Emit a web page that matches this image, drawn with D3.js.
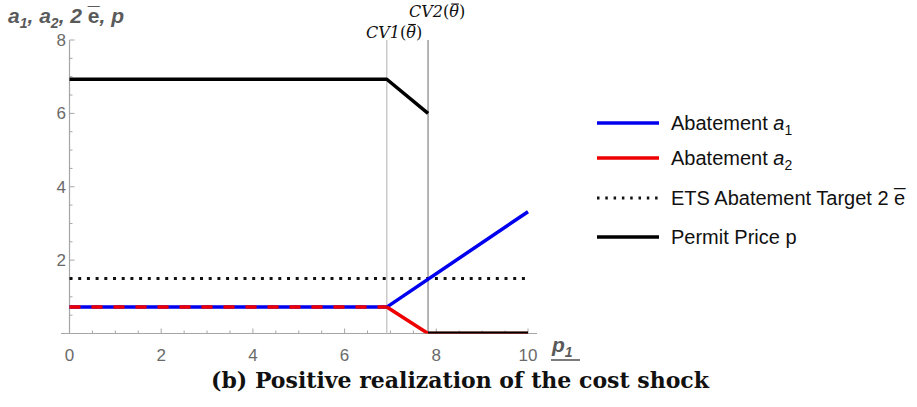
<!DOCTYPE html>
<html>
<head>
<meta charset="utf-8">
<script src="https://cdn.jsdelivr.net/npm/d3@7"></script>
<style>
  html, body { margin: 0; padding: 0; background: #fff; }
  svg { display: block; }
</style>
</head>
<body>
<svg id="chart" width="917" height="407"></svg>
<script>
// Regime thresholds on the p1 axis
const cv1 = 6.92;
const cv2 = 7.82;

// Abatement of country 1 and 2, target and permit price, as (p1, value) pairs
const abatementA1 = [[0, 0.72], [cv1, 0.72], [10, 3.32]];
const abatementA2 = [[0, 0.72], [cv1, 0.72], [cv2, 0], [10, 0]];
const abatementTarget = [[0, 1.5], [10, 1.5]];
const permitPriceHigh = [[0, 6.93], [cv1, 6.93], [cv2, 6.0]];
const permitPriceLow = [[cv2, 0], [10, 0]];

const xTicks = [0, 2, 4, 6, 8, 10];
const yTicks = [2, 4, 6, 8];

const svg = d3.select("#chart");
const x = d3.scaleLinear().domain([0, 10]).range([69.5, 528]);
const y = d3.scaleLinear().domain([0, 8]).range([333.5, 40]);

const axisColor = "#a6a6a6";
const labelColor = "#6a6a6a";
const sans = "Liberation Sans, Arial, sans-serif";

// Plot region clip: curves lying on the axis show only their upper half
svg.append("defs").append("clipPath").attr("id", "plotClip")
  .append("rect").attr("x", 0).attr("y", 0).attr("width", 917).attr("height", y(0));

// Axes lines
svg.append("line").attr("x1", 61).attr("x2", 537).attr("y1", y(0)).attr("y2", y(0))
  .attr("stroke", axisColor).attr("stroke-width", 1.2);
svg.append("line").attr("x1", x(0)).attr("x2", x(0)).attr("y1", y(0)).attr("y2", y(8))
  .attr("stroke", axisColor).attr("stroke-width", 1.2);

// x ticks (inward)
d3.range(0, 10.01, 0.5).forEach(v => {
  const major = Math.abs(v % 2) < 1e-9;
  svg.append("line").attr("x1", x(v)).attr("x2", x(v))
    .attr("y1", y(0)).attr("y2", y(0) - (major ? 5 : 3))
    .attr("stroke", axisColor).attr("stroke-width", 1);
});
// y ticks (inward)
d3.range(0, 8.01, 0.5).forEach(v => {
  const major = Math.abs(v % 2) < 1e-9;
  svg.append("line").attr("x1", x(0)).attr("x2", x(0) + (major ? 5 : 3))
    .attr("y1", y(v)).attr("y2", y(v))
    .attr("stroke", axisColor).attr("stroke-width", 1);
});

svg.append("g").selectAll("text").data(xTicks).join("text")
  .attr("x", d => x(d)).attr("y", 361)
  .attr("text-anchor", "middle")
  .attr("font-family", sans)
  .attr("font-size", 17).attr("fill", labelColor)
  .text(d => d);

svg.append("g").selectAll("text").data(yTicks).join("text")
  .attr("x", 66).attr("y", d => y(d) + 6)
  .attr("text-anchor", "end")
  .attr("font-family", sans)
  .attr("font-size", 17).attr("fill", labelColor)
  .text(d => d);

// Threshold lines
svg.append("line").attr("x1", x(cv1)).attr("x2", x(cv1)).attr("y1", y(8)).attr("y2", y(0))
  .attr("stroke", "#c4c4c4").attr("stroke-width", 1.3);
svg.append("line").attr("x1", x(cv2)).attr("x2", x(cv2)).attr("y1", y(8)).attr("y2", y(0))
  .attr("stroke", "#8c8c8c").attr("stroke-width", 1.3);

const line = d3.line().x(d => x(d[0])).y(d => y(d[1]));
const plot = svg.append("g").attr("clip-path", "url(#plotClip)");

// Target (dotted)
plot.append("path").attr("d", line(abatementTarget))
  .attr("fill", "none").attr("stroke", "#111").attr("stroke-width", 3)
  .attr("stroke-dasharray", "3,5.7");

// Abatement a1 (blue)
plot.append("path").attr("d", line(abatementA1))
  .attr("fill", "none").attr("stroke", "#0000ee").attr("stroke-width", 3.5)
  .attr("stroke-linejoin", "round");

// Abatement a2: dashed while it coincides with a1, solid afterwards
plot.append("path").attr("d", line(abatementA2.slice(0, 2)))
  .attr("fill", "none").attr("stroke", "#ee0000").attr("stroke-width", 3.5)
  .attr("stroke-dasharray", "11,11");
plot.append("path").attr("d", line(abatementA2.slice(1)))
  .attr("fill", "none").attr("stroke", "#ee0000").attr("stroke-width", 3.5)
  .attr("stroke-linejoin", "round");

// Permit price (black)
plot.append("path").attr("d", line(permitPriceHigh))
  .attr("fill", "none").attr("stroke", "#000").attr("stroke-width", 3.5)
  .attr("stroke-linejoin", "round");
plot.append("path").attr("d", line(permitPriceLow))
  .attr("fill", "none").attr("stroke", "#000").attr("stroke-width", 4);

// Threshold labels: CVn(θ̄) with the bar drawn above theta
function cvLabel(name, px, py) {
  const t = svg.append("text").attr("x", px).attr("y", py)
    .attr("font-family", "DejaVu Serif, serif").attr("font-size", 16).attr("fill", "#111");
  t.append("tspan").attr("font-style", "italic").text(name);
  t.append("tspan").text("(");
  t.append("tspan").attr("font-style", "italic").text("θ");
  t.append("tspan").text(")");
  const idx = name.length + 1;
  const ext = t.node().getExtentOfChar(idx);
  svg.append("line")
    .attr("x1", ext.x + 2).attr("x2", ext.x + ext.width)
    .attr("y1", ext.y + 2).attr("y2", ext.y + 2)
    .attr("stroke", "#111").attr("stroke-width", 1.1);
}
cvLabel("CV1", 366, 37.5);
cvLabel("CV2", 409, 17);

// Axis titles
const yTitle = svg.append("text").attr("x", 8).attr("y", 23)
  .attr("font-family", sans)
  .attr("font-size", 21).attr("font-weight", "bold").attr("font-style", "italic")
  .attr("fill", "#5a5a5a");
yTitle.append("tspan").text("a");
yTitle.append("tspan").attr("font-size", 14).attr("dy", 5).text("1");
yTitle.append("tspan").attr("dy", -5).text(", a");
yTitle.append("tspan").attr("font-size", 14).attr("dy", 5).text("2");
yTitle.append("tspan").attr("dy", -5).text(", 2 ");
yTitle.append("tspan").attr("font-style", "normal").text("e\u0305");
yTitle.append("tspan").text(", p");

const xTitle = svg.append("text").attr("x", 552).attr("y", 352)
  .attr("font-family", sans)
  .attr("font-size", 21).attr("font-weight", "bold").attr("font-style", "italic")
  .attr("fill", "#5a5a5a");
xTitle.append("tspan").text("p");
xTitle.append("tspan").attr("font-size", 14).attr("dy", 5).text("1");
svg.append("line").attr("x1", 551).attr("x2", 580).attr("y1", 360).attr("y2", 360)
  .attr("stroke", "#5a5a5a").attr("stroke-width", 1.6);

// Legend
const legendItems = [
  { parts: [["Abatement ", null], ["a", "italic"], ["1", "sub"]], color: "#0000ee", dash: null, w: 3.5 },
  { parts: [["Abatement ", null], ["a", "italic"], ["2", "sub"]], color: "#ee0000", dash: null, w: 3.5 },
  { parts: [["ETS Abatement Target 2 ", null], ["e\u0305", null]], color: "#111", dash: "2.5,5.8", w: 3 },
  { parts: [["Permit Price p", null]], color: "#000", dash: null, w: 3.5 }
];
const legendY = [123, 158, 198, 237];
legendItems.forEach((it, i) => {
  const ly = legendY[i];
  svg.append("line").attr("x1", 597).attr("x2", 659).attr("y1", ly).attr("y2", ly)
    .attr("stroke", it.color).attr("stroke-width", it.w)
    .attr("stroke-dasharray", it.dash);
  const t = svg.append("text").attr("x", 671).attr("y", ly + 7)
    .attr("font-family", sans)
    .attr("font-size", 20).attr("fill", "#111");
  it.parts.forEach(([s, style]) => {
    const sp = t.append("tspan").text(s);
    if (style === "italic") sp.attr("font-style", "italic");
    if (style === "sub") sp.attr("font-size", 14).attr("dy", 5);
  });
});

// Caption
svg.append("text").attr("x", 460).attr("y", 388)
  .attr("text-anchor", "middle")
  .attr("font-family", "DejaVu Serif, serif").attr("font-weight", "bold")
  .attr("font-size", 22).attr("fill", "#111")
  .text("(b) Positive realization of the cost shock");
</script>
</body>
</html>
